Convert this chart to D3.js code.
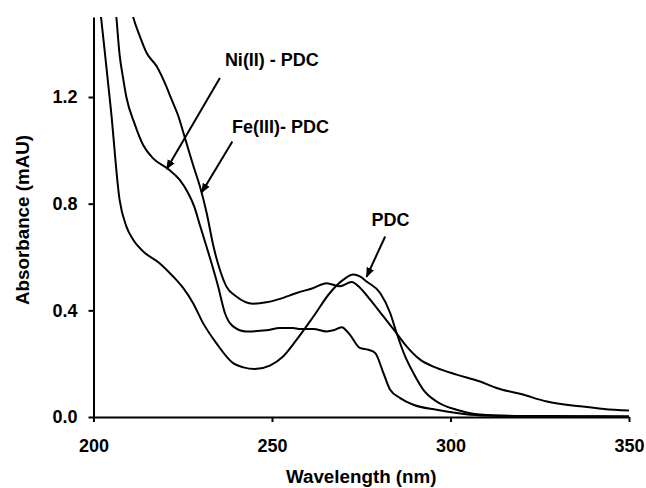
<!DOCTYPE html>
<html>
<head>
<meta charset="utf-8">
<script src="https://cdn.jsdelivr.net/npm/d3@7"></script>
<style>
  body { margin: 0; background: #fff; }
  text { font-family: "Liberation Sans", Arial, sans-serif; font-weight: bold; fill: #000; }
</style>
</head>
<body>
<svg id="chart"></svg>
<script>
const width = 646, height = 488;
const marginTop = 17, marginRight = 17, marginBottom = 71, marginLeft = 93.5;
const FONT = 18, TITLE_FONT = 18.8;

// PDC
const pdcWl  = [200, 202.1, 204.9, 207.3, 209.2, 211.1, 213.9, 218.5, 222.3, 225.1, 227.9, 230.7, 234.4, 239.1, 242, 245.2, 249.4, 253.1, 256.9, 261.6, 266.2, 270, 272.8, 274.6, 276.5, 280.3, 283.1, 284.9, 287.3, 289.6, 292.4, 296.1, 301.7, 308.3, 320, 335, 350];
const pdcAbs = [1.76, 1.50, 1.15, 0.815, 0.715, 0.665, 0.621, 0.577, 0.527, 0.484, 0.427, 0.352, 0.277, 0.202, 0.186, 0.180, 0.193, 0.227, 0.290, 0.377, 0.465, 0.515, 0.534, 0.527, 0.508, 0.465, 0.390, 0.315, 0.227, 0.165, 0.102, 0.058, 0.027, 0.009, 0.004, 0.003, 0.002];

// Ni(II) - PDC
const niWl  = [204.5, 206.4, 207.3, 208.3, 209.2, 211.5, 213.9, 216.7, 220.9, 224.1, 226.5, 228.2, 229.9, 232.5, 234.9, 236.8, 239.1, 242.8, 248.4, 252.2, 255.9, 257.8, 261.6, 265.3, 267.2, 269.5, 271.8, 274.6, 277, 278.9, 281.2, 283.1, 285.9, 289.6, 296.1, 301.7, 308.3, 320, 350];
const niAbs = [1.75, 1.50, 1.36, 1.27, 1.20, 1.10, 1.02, 0.97, 0.93, 0.89, 0.84, 0.79, 0.715, 0.602, 0.490, 0.390, 0.340, 0.321, 0.325, 0.334, 0.334, 0.330, 0.330, 0.321, 0.325, 0.337, 0.309, 0.259, 0.252, 0.240, 0.165, 0.102, 0.071, 0.046, 0.027, 0.015, 0.006, 0.003, 0.002];

// Fe(III) - PDC
const feWl  = [210, 211.1, 213, 214.9, 217.7, 220, 221.9, 223.8, 225.2, 226.6, 228, 229.8, 231.7, 233.6, 235.4, 237.2, 240, 244.7, 248.4, 252.2, 256.9, 261.6, 265.3, 269, 272.3, 274.7, 277.5, 281.2, 284.5, 287.7, 291.5, 296.1, 301.7, 308.3, 312.9, 320, 327, 336.3, 343, 350];
const feAbs = [1.56, 1.50, 1.427, 1.365, 1.315, 1.252, 1.190, 1.127, 1.065, 1.002, 0.940, 0.865, 0.765, 0.640, 0.552, 0.490, 0.452, 0.425, 0.430, 0.443, 0.465, 0.484, 0.502, 0.490, 0.506, 0.484, 0.440, 0.377, 0.321, 0.265, 0.215, 0.184, 0.159, 0.133, 0.109, 0.085, 0.058, 0.040, 0.030, 0.024];

const xTicks = [200, 250, 300, 350];
const yTicks = [0, 0.4, 0.8, 1.2];

// annotations, in data units
const labels = ["Ni(II) - PDC", "Fe(III)- PDC", "PDC"];
const labelPos = [[236.8, 1.317], [238.8, 1.066], [277.9, 0.717]];
const arrowFrom = [[235.4, 1.271], [238.9, 1.033], [281.7, 0.677]];
const arrowTo = [[220.5, 0.930], [230.3, 0.842], [276.5, 0.526]];

const x = d3.scaleLinear().domain([200, 350]).range([marginLeft, width - marginRight]);
const y = d3.scaleLinear().domain([0, 1.5]).range([height - marginBottom, marginTop]);

const svg = d3.select("#chart")
    .attr("width", width)
    .attr("height", height)
    .attr("viewBox", [0, 0, width, height]);

const defs = svg.append("defs");

defs.append("clipPath")
    .attr("id", "plot-clip")
  .append("rect")
    .attr("x", marginLeft)
    .attr("y", marginTop)
    .attr("width", width - marginRight - marginLeft)
    .attr("height", height - marginBottom - marginTop);

defs.append("marker")
    .attr("id", "head")
    .attr("viewBox", "0 0 10 10")
    .attr("refX", 9)
    .attr("refY", 5)
    .attr("markerWidth", 10)
    .attr("markerHeight", 10)
    .attr("markerUnits", "userSpaceOnUse")
    .attr("orient", "auto")
  .append("path")
    .attr("d", "M0,1 L10,5 L0,9 Z")
    .attr("fill", "#000");

const line = d3.line()
    .curve(d3.curveMonotoneX)
    .x(d => x(d[0]))
    .y(d => y(d[1]));

const series = [
    d3.zip(pdcWl, pdcAbs),
    d3.zip(niWl, niAbs),
    d3.zip(feWl, feAbs)
];

svg.append("g")
    .attr("clip-path", "url(#plot-clip)")
  .selectAll("path")
  .data(series)
  .join("path")
    .attr("fill", "none")
    .attr("stroke", "#000")
    .attr("stroke-width", 2)
    .attr("stroke-linejoin", "round")
    .attr("d", line);

// axes
const xAxis = svg.append("g")
    .attr("transform", `translate(0,${height - marginBottom})`)
    .call(d3.axisBottom(x).tickValues(xTicks).tickFormat(d3.format("d")).tickSize(5).tickPadding(17).tickSizeOuter(0));

const yAxis = svg.append("g")
    .attr("transform", `translate(${marginLeft},0)`)
    .call(d3.axisLeft(y).tickValues(yTicks).tickFormat(d3.format(".1f")).tickSize(5).tickPadding(11).tickSizeOuter(0));

[xAxis, yAxis].forEach(g => {
    g.select(".domain").attr("stroke", "#000").attr("stroke-width", 2);
    g.selectAll(".tick line").attr("stroke", "#000").attr("stroke-width", 2);
    g.selectAll(".tick text")
        .attr("fill", "#000")
        .style("font-family", "'Liberation Sans', Arial, sans-serif")
        .style("font-weight", "bold")
        .style("font-size", FONT + "px");
});

// axis titles
svg.append("text")
    .attr("x", (marginLeft + width - marginRight) / 2)
    .attr("y", 483)
    .attr("text-anchor", "middle")
    .style("font-size", TITLE_FONT + "px")
    .text("Wavelength (nm)");

svg.append("text")
    .attr("transform", `translate(29,${(marginTop + height - marginBottom) / 2 + 3}) rotate(-90)`)
    .attr("text-anchor", "middle")
    .style("font-size", TITLE_FONT + "px")
    .text("Absorbance (mAU)");

// annotations
svg.append("g")
  .selectAll("line")
  .data(labels)
  .join("line")
    .attr("x1", (d, i) => x(arrowFrom[i][0]))
    .attr("y1", (d, i) => y(arrowFrom[i][1]))
    .attr("x2", (d, i) => x(arrowTo[i][0]))
    .attr("y2", (d, i) => y(arrowTo[i][1]))
    .attr("stroke", "#000")
    .attr("stroke-width", 2)
    .attr("marker-end", "url(#head)");

svg.append("g")
  .selectAll("text")
  .data(labels)
  .join("text")
    .attr("x", (d, i) => x(labelPos[i][0]))
    .attr("y", (d, i) => y(labelPos[i][1]))
    .style("font-size", FONT + "px")
    .text(d => d);
</script>
</body>
</html>
